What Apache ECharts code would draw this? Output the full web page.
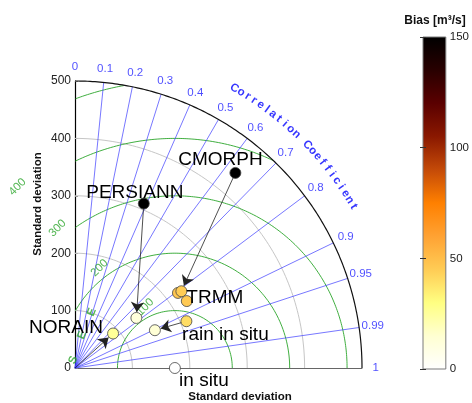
<!DOCTYPE html>
<html>
<head>
<meta charset="utf-8">
<script src="https://cdn.jsdelivr.net/npm/echarts@6/dist/echarts.min.js"></script>
<style>
  html, body { margin: 0; padding: 0; background: #fff; }
  #chart { width: 472px; height: 403px; }
</style>
</head>
<body>
<div id="chart"></div>
<script>
// axis ticks of the Taylor diagram
const corrTicks = [0, 0.1, 0.2, 0.3, 0.4, 0.5, 0.6, 0.7, 0.8, 0.9, 0.95, 0.99, 1];
const corrLines = [0.1, 0.2, 0.3, 0.4, 0.5, 0.6, 0.7, 0.8, 0.9, 0.95, 0.99];
const stdTicks = [0, 100, 200, 300, 400, 500];
const stdArcs = [100, 200, 300, 400];
const stdMax = 500;
const rmseArcs = [100, 200, 300, 400, 500];
const rmseLabels = [100, 200, 300, 400];
const refStd = 174;

// points (std dev, correlation, bias)
const pointNames = ['in situ', 'CMORPH', 'PERSIANN', 'TRMM a', 'TRMM b', 'TRMM', 'rain in situ', 'rain in situ corr', 'PERSIANN corr', 'NORAIN'];
const labelText  = ['in situ', 'CMORPH', 'PERSIANN', '', '', 'TRMM', 'rain in situ', '', '', 'NORAIN'];
const stdDev   = [174, 440, 310.5, 222, 228.5, 227, 210.5, 154, 138, 89.5];
const corrCoef = [1, 0.635, 0.386, 0.808, 0.811, 0.858, 0.922, 0.904, 0.775, 0.741];
const bias     = [0, 150, 150, 47, 45, 46, 40, 14, 12, 26];

// arrows: from point index (-1 = origin) to point index
const arrowFrom = [1, 2, 6, -1];
const arrowTo   = [4, 8, 7, 9];

// colour bar
const biasMin = 0, biasMax = 150, biasStep = 50;
const biasColors = ['#ffffff', '#ffffd2', '#ffff82', '#ffcc55', '#ffa233', '#ff8000',
                    '#c44a08', '#8a1800', '#5a0000', '#280000', '#000000'];

const FONT = 'Liberation Sans, Arial, Helvetica, sans-serif';
const BLUE = '#1f1fff';
const GREEN = '#2aa52a';

const myChart = echarts.init(document.getElementById('chart'));

const toXY = (s, c) => [s * c, s * Math.sqrt(Math.max(0, 1 - c * c))];
const deg = Math.PI / 180;

const lineSeries = (data, color, width, z) => ({
  type: 'line', data, showSymbol: false, symbol: 'none', silent: true,
  clip: false, z: z || 2, animation: false,
  lineStyle: { color, width }
});

const series = [];

// grey std dev arcs
stdArcs.forEach(r => {
  const pts = [];
  for (let a = 0; a <= 90; a += 0.5) pts.push([r * Math.cos(a * deg), r * Math.sin(a * deg)]);
  series.push(lineSeries(pts, '#c6c6c6', 1, 1));
});

// green rmse arcs round the reference, clipped to the quarter disc
rmseArcs.forEach(r => {
  let run = [];
  const flush = () => { if (run.length > 1) series.push(lineSeries(run, GREEN, 0.9, 2)); run = []; };
  for (let a = 0; a <= 180; a += 0.25) {
    const x = refStd + r * Math.cos(a * deg), y = r * Math.sin(a * deg);
    if (x >= 0 && x * x + y * y <= stdMax * stdMax + 1) run.push([x, y]);
    else flush();
  }
  flush();
});

// blue correlation rays
corrLines.forEach(c => {
  series.push(lineSeries([[0, 0], toXY(stdMax, c)], '#3c3cff', 0.7, 3));
});

// outer arc
(() => {
  const pts = [];
  for (let a = 0; a <= 90; a += 0.5) pts.push([stdMax * Math.cos(a * deg), stdMax * Math.sin(a * deg)]);
  series.push(lineSeries(pts, '#111', 1.2, 4));
})();

// correlation tick labels
series.push({
  type: 'scatter', symbolSize: 0, silent: true, clip: false, z: 6,
  data: corrTicks.map(c => ({ name: String(c), value: toXY(524, c) })),
  label: { show: true, position: 'inside', formatter: '{b}', color: BLUE, fontSize: 11.5, fontFamily: FONT }
});

// curved axis title
(() => {
  const title = 'Correlation Coefficient';
  const a0 = 60.3, da = 1.373, r = 561;
  const data = [];
  title.split('').forEach((ch, i) => {
    if (ch === ' ') return;
    const a = a0 - i * da;
    data.push({
      name: ch, value: [r * Math.cos(a * deg), r * Math.sin(a * deg)],
      label: { rotate: a - 90 }
    });
  });
  series.push({
    type: 'scatter', symbolSize: 0, silent: true, clip: false, z: 6, data,
    label: { show: true, position: 'inside', formatter: '{b}', color: '#0000ff', fontSize: 11.5, fontWeight: 'bold', fontFamily: FONT }
  });
})();

// rmse labels
const rmseLabelAngle = [116, 127, 130, 131];
series.push({
  type: 'scatter', symbolSize: 0, silent: true, clip: false, z: 6,
  data: rmseLabels.map((r, i) => ({
    name: String(r),
    value: [refStd + (r + 18) * Math.cos(rmseLabelAngle[i] * deg), (r + 18) * Math.sin(rmseLabelAngle[i] * deg)]
  })),
  label: { show: true, position: 'inside', formatter: '{b}', rotate: 45, color: GREEN, fontSize: 11.5, fontFamily: FONT }
});
// partial rmse letters near the origin
const rmseLetters = ['S', 'E', 'E'];
const rmseLetterPos = [[-3, 14], [12, 57], [29, 97]];
series.push({
  type: 'scatter', symbolSize: 0, silent: true, clip: false, z: 6,
  data: rmseLetters.map((ch, i) => ({ name: ch, value: rmseLetterPos[i] })),
  label: { show: true, position: 'inside', formatter: '{b}', rotate: 68, color: GREEN, fontSize: 11.5, fontWeight: 'bold', fontFamily: FONT }
});

// arrows
const shortBy = 10.5;
series.push({
  type: 'lines', coordinateSystem: 'cartesian2d', silent: true, z: 7,
  symbol: ['none', 'arrow'], symbolSize: 10,
  lineStyle: { color: '#222', width: 0.8, opacity: 1 },
  data: arrowFrom.map((f, i) => {
    const p0 = f < 0 ? [0, 0] : toXY(stdDev[f], corrCoef[f]);
    const p1 = toXY(stdDev[arrowTo[i]], corrCoef[arrowTo[i]]);
    const dx = p1[0] - p0[0], dy = p1[1] - p0[1], d = Math.hypot(dx, dy);
    return { coords: [p0, [p1[0] - dx / d * shortBy, p1[1] - dy / d * shortBy]] };
  })
});

// points
const labelOffset = {
  'in situ': [29, 13], 'CMORPH': [-15, -13], 'PERSIANN': [-9, -11],
  'TRMM': [28, -3], 'rain in situ': [39, 14], 'NORAIN': [-47, -6]
};
series.push({
  type: 'scatter', silent: true, clip: false, z: 8, symbolSize: 11,
  itemStyle: { borderColor: '#444', borderWidth: 0.8, opacity: 1 },
  data: pointNames.map((n, i) => {
    const item = { name: labelText[i], value: [...toXY(stdDev[i], corrCoef[i]), bias[i]] };
    if (labelText[i]) {
      item.label = { show: true, position: 'inside', offset: labelOffset[labelText[i]] };
    }
    return item;
  }),
  label: { show: false, formatter: '{b}', color: '#000', fontSize: 19, fontFamily: FONT }
});
const pointSeriesIndex = series.length - 1;

const option = {
  animation: false,
  backgroundColor: '#fff',
  grid: [
    { left: 75, top: 81, width: 287, height: 287, containLabel: false },
    {
      left: 423, top: 37, width: 25, height: 332, show: true, borderColor: '#7a7a7a', borderWidth: 1,
      backgroundColor: new echarts.graphic.LinearGradient(0, 0, 0, 1,
        biasColors.slice().reverse().map((c, i) => ({ offset: i / (biasColors.length - 1), color: c })))
    }
  ],
  xAxis: [
    {
      type: 'value', min: 0, max: stdMax, gridIndex: 0,
      axisLine: { show: true, lineStyle: { color: '#666', width: 1 } },
      axisTick: { show: false }, axisLabel: { show: false }, splitLine: { show: false }
    },
    { type: 'value', gridIndex: 1, show: false, min: 0, max: 1 }
  ],
  yAxis: [
    {
      type: 'value', min: 0, max: stdMax, interval: 100, gridIndex: 0,
      axisLine: { show: true, onZero: false, lineStyle: { color: '#000', width: 1.2 } },
      axisTick: { show: true, inside: true, length: 3, lineStyle: { color: '#888' } },
      axisLabel: { show: true, margin: 4, color: '#222', fontSize: 12, fontFamily: FONT,
        formatter: v => stdTicks.includes(v) ? String(v) : '' },
      splitLine: { show: false }
    },
    {
      type: 'value', min: biasMin, max: biasMax, interval: biasStep, gridIndex: 1, position: 'right',
      axisLine: { show: false },
      axisTick: { show: true, inside: true, length: 3, lineStyle: { color: '#333' } },
      axisLabel: { margin: 4, color: '#222', fontSize: 11.5, fontFamily: FONT },
      splitLine: { show: false }
    },
    {
      type: 'value', min: biasMin, max: biasMax, interval: biasStep, gridIndex: 1, position: 'left',
      axisLine: { show: false },
      axisTick: { show: true, inside: true, length: 3, lineStyle: { color: '#333' } },
      axisLabel: { show: false }, splitLine: { show: false }
    }
  ],
  visualMap: {
    type: 'continuous', show: false, min: biasMin, max: biasMax, dimension: 2,
    seriesIndex: pointSeriesIndex, inRange: { color: biasColors }
  },
  graphic: [
    {
      type: 'text', x: 38, y: 204, rotation: Math.PI / 2, silent: true,
      style: { text: 'Standard deviation', fill: '#111', font: 'bold 11.5px ' + FONT, align: 'center', verticalAlign: 'middle' }
    },
    {
      type: 'text', x: 240, y: 397, silent: true,
      style: { text: 'Standard deviation', fill: '#111', font: 'bold 11.5px ' + FONT, align: 'center', verticalAlign: 'middle' }
    },
    {
      type: 'text', x: 435, y: 21, silent: true,
      style: { text: 'Bias [m³/s]', fill: '#111', font: 'bold 12px ' + FONT, align: 'center', verticalAlign: 'middle' }
    }
  ],
  series
};

myChart.setOption(option);
</script>
</body>
</html>
